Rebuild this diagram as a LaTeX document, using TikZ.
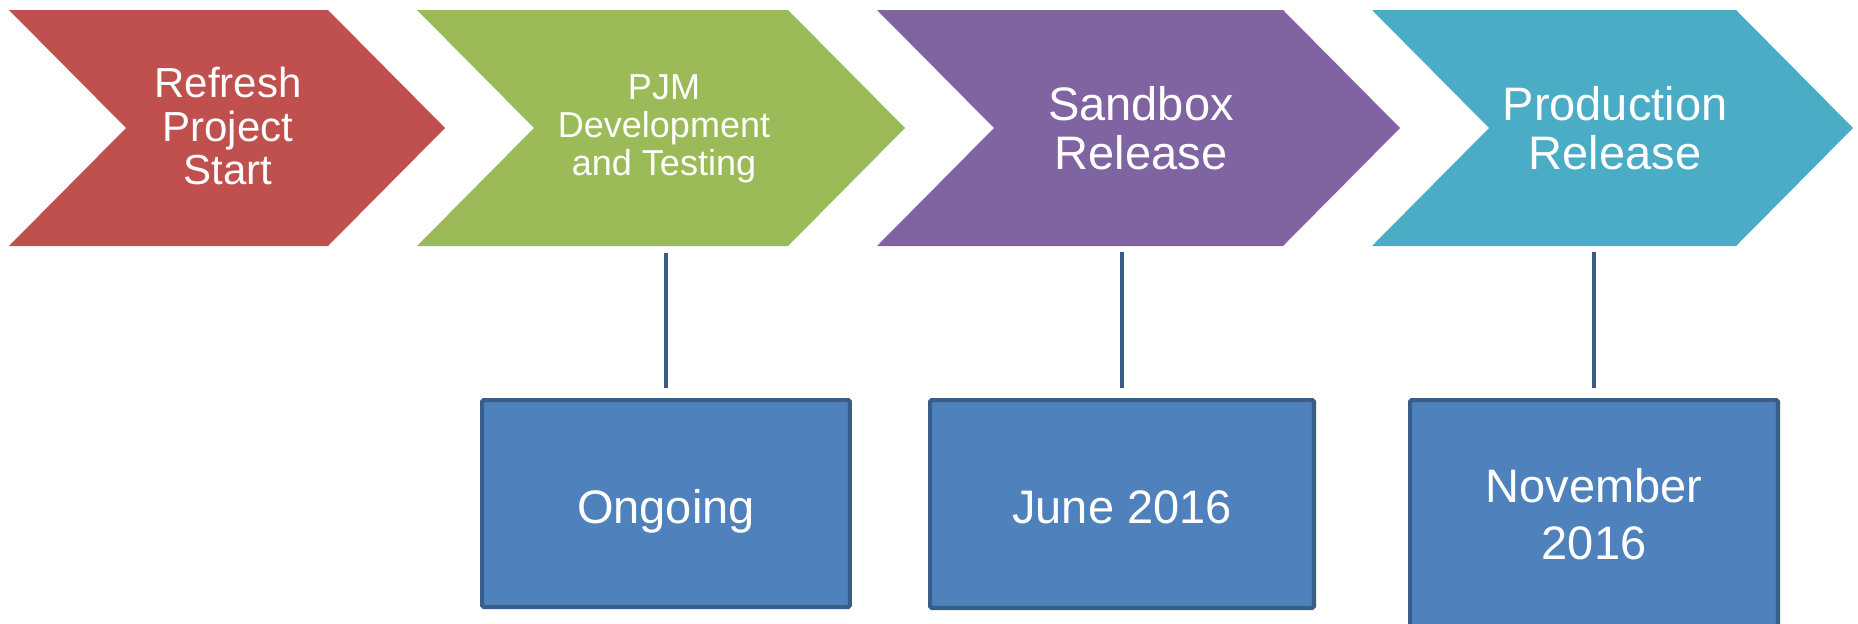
\documentclass[tikz,border=0pt]{standalone}
\usepackage{fontspec}
\setmainfont{Liberation Sans}

\definecolor{chevred}{HTML}{C0504D}
\definecolor{chevgreen}{HTML}{9BBB59}
\definecolor{chevpurple}{HTML}{8064A2}
\definecolor{chevteal}{HTML}{4BACC6}
\definecolor{datefill}{HTML}{4F81BD}
\definecolor{dateline}{HTML}{385D8A}

\tikzset{
  steplabel/.style={text=white, align=center, minimum width=4cm, minimum height=4.72cm, inner sep=0pt},
  datebox/.style={draw=dateline, fill=datefill, line width=2.3pt, text=white,
    rounded corners=1pt, inner sep=0pt, font=\fontsize{26.75}{32.4}\selectfont},
  oneline/.style={text height=22.2pt, text depth=0pt},
  stem/.style={draw=dateline, line width=2.3pt, shorten <=0.12cm, shorten >=0.2cm}
}

\begin{document}
\begin{tikzpicture}[x=0.02cm, y=-0.02cm]
  \useasboundingbox (0,0) rectangle (1858,623);
  \clip (0,0) rectangle (1858,623);

  % chevrons
  \fill[chevred]    (9,10) -- (328,10) -- (445,128) -- (328,246) -- (9,246) -- (126,128) -- cycle;
  \fill[chevgreen]  (417,10) -- (788,10) -- (905,128) -- (788,246) -- (417,246) -- (534,128) -- cycle;
  \fill[chevpurple] (877,10) -- (1283,10) -- (1400,128) -- (1283,246) -- (877,246) -- (994,128) -- cycle;
  \fill[chevteal]   (1372,10) -- (1736,10) -- (1853,128) -- (1736,246) -- (1372,246) -- (1489,128) -- cycle;

  \node[steplabel, font=\fontsize{23.9}{24.75}\selectfont] (c1) at (228,126) {Refresh\\Project\\Start};
  \node[steplabel, font=\fontsize{20.5}{21.6}\selectfont] (c2) at (664,129) {PJM\\Development\\and Testing};
  \node[steplabel, font=\fontsize{26.75}{27.9}\selectfont] (c3) at (1141,128) {Sandbox\\Release};
  \node[steplabel, font=\fontsize{26.75}{27.9}\selectfont] (c4) at (1615,128) {Production\\Release};

  % dates
  \node[datebox, oneline, minimum width=7.36cm, minimum height=4.14cm] (d2) at (666,503.5) {Ongoing};
  \node[datebox, oneline, minimum width=7.68cm, minimum height=4.16cm] (d3) at (1122,504) {June 2016};
  \node[datebox, align=center, minimum width=7.36cm, minimum height=4.56cm] (d4) at (1594,514) {November\\2016};

  \draw[stem] (d2.north |- c2.south) -- (d2.north);
  \draw[stem] (d3.north |- c3.south) -- (d3.north);
  \draw[stem] (d4.north |- c4.south) -- (d4.north);
\end{tikzpicture}
\end{document}
